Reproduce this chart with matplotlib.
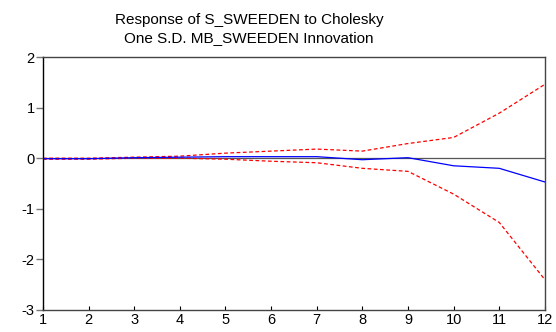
import matplotlib.pyplot as plt
import numpy as np

plt.rcParams['font.family'] = ['Liberation Sans', 'DejaVu Sans']
plt.rcParams['axes.unicode_minus'] = False

# impulse response of S_SWEEDEN to a one s.d. MB_SWEEDEN shock, with +/- 2 s.e. bands
periods = np.arange(1, 13)
response = [-0.01, -0.01, 0.01, 0.02, 0.03, 0.03, 0.03, -0.03, 0.01, -0.15, -0.20, -0.47]
upper = [0.00, 0.00, 0.02, 0.04, 0.10, 0.14, 0.18, 0.14, 0.29, 0.41, 0.89, 1.46]
lower = [-0.02, -0.02, 0.00, 0.00, -0.02, -0.06, -0.09, -0.20, -0.26, -0.71, -1.27, -2.40]

fig = plt.figure(figsize=(5.56, 3.32), dpi=100)
ax = fig.add_axes([0.0773, 0.0663, 0.9027, 0.762])

ax.axhline(0, color='#555555', linewidth=0.9, zorder=1)
ax.plot(periods, response, color='blue', linewidth=0.9, zorder=3)
ax.plot(periods, upper, color='red', linestyle=(0, (3, 2)), linewidth=0.9, zorder=2)
ax.plot(periods, lower, color='red', linestyle=(0, (3, 2)), linewidth=0.9, zorder=2)

ax.set_xlim(1, 12)
ax.set_ylim(-3, 2)
ax.set_xticks(periods)
ax.set_yticks([-3, -2, -1, 0, 1, 2])

ax.tick_params(axis='x', direction='in', length=3, width=0.8, pad=2, labelsize=10.5)
ax.tick_params(axis='y', direction='out', length=5, width=1, color='#777777', pad=1, labelsize=10.5)

for side in ['top', 'right', 'bottom']:
    ax.spines[side].set_color('#444444')
    ax.spines[side].set_linewidth(1)
ax.spines['left'].set_color('black')
ax.spines['left'].set_linewidth(1)

fig.text(0.448, 0.94, 'Response of S_SWEEDEN to Cholesky', ha='center', va='center', fontsize=11)
fig.text(0.448, 0.885, 'One S.D. MB_SWEEDEN Innovation', ha='center', va='center', fontsize=11)

fig.savefig('out.png', dpi=100)
